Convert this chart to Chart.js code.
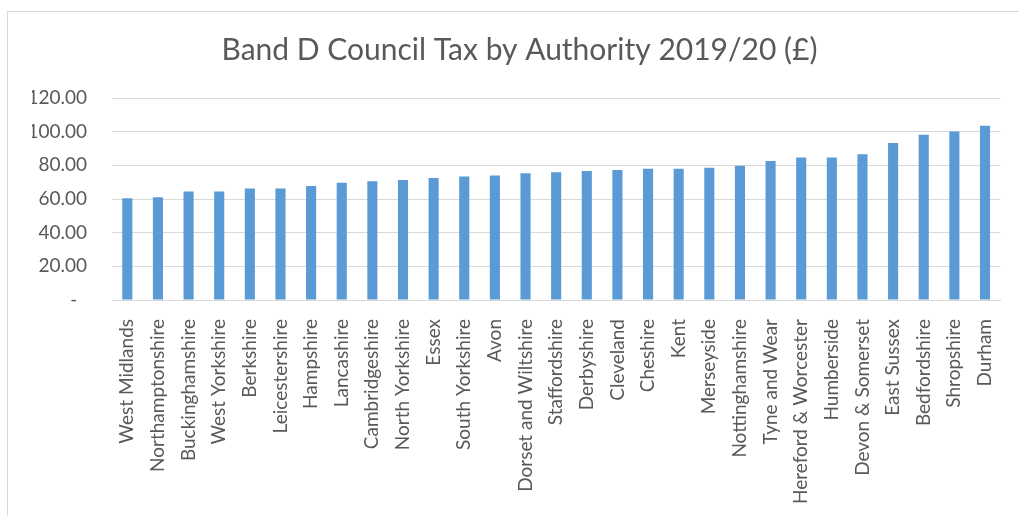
<!DOCTYPE html>
<html>
<head>
<meta charset="utf-8">
<script src="https://cdn.jsdelivr.net/npm/chart.js@4/dist/chart.umd.min.js"></script>
<style>
  html, body { margin: 0; padding: 0; background: #fff; overflow: hidden; }
  #frame { position: absolute; left: 7px; top: 11px; width: 1040px; height: 600px; border: 1px solid #d9d9d9; }
  #wrap { position: absolute; left: 0; top: 0; width: 1019px; height: 516px; }
</style>
</head>
<body>
<div id="frame"></div>
<div id="wrap"><canvas id="barChart"></canvas></div>
<script>
const authorities = [
    "West Midlands", "Northamptonshire", "Buckinghamshire", "West Yorkshire", "Berkshire",
    "Leicestershire", "Hampshire", "Lancashire", "Cambridgeshire", "North Yorkshire",
    "Essex", "South Yorkshire", "Avon", "Dorset and Wiltshire", "Staffordshire",
    "Derbyshire", "Cleveland", "Cheshire", "Kent", "Merseyside",
    "Nottinghamshire", "Tyne and Wear", "Hereford & Worcester", "Humberside", "Devon & Somerset",
    "East Sussex", "Bedfordshire", "Shropshire", "Durham"
];
const bandD = [
    60.4, 61.0, 64.4, 64.4, 66.3,
    66.3, 67.7, 69.7, 70.5, 71.3,
    72.5, 73.3, 73.9, 75.3, 75.9,
    76.7, 77.3, 77.9, 77.9, 78.5,
    79.8, 82.6, 84.6, 84.6, 86.6,
    93.3, 98.1, 100.1, 103.5
];
const yTicks = [0, 20, 40, 60, 80, 100, 120];

const textColor = '#595959';
const gridColor = '#d9d9d9';

const ctx = document.getElementById("barChart").getContext("2d");

const chart = new Chart(ctx, {
    type: 'bar',
    data: {
        labels: authorities,
        datasets: [{
            label: 'Band D',
            data: bandD,
            backgroundColor: '#5b9bd5',
            borderWidth: 0,
            barPercentage: 0.33,
            categoryPercentage: 1
        }]
    },
    options: {
        responsive: true,
        maintainAspectRatio: false,
        animation: false,
        layout: { padding: { left: 32, right: 12, top: 0, bottom: 0 } },
        plugins: {
            legend: { display: false },
            tooltip: { enabled: false },
            title: {
                display: true,
                text: 'Band D Council Tax by Authority 2019/20 (£)',
                color: textColor,
                font: { family: 'Lato', size: 30, weight: 'normal' },
                padding: { top: 32, bottom: 30 }
            }
        },
        scales: {
            x: {
                grid: { display: false },
                border: { display: true, color: gridColor, width: 1 },
                ticks: {
                    color: textColor,
                    font: { family: 'Lato', size: 19 },
                    minRotation: 90,
                    maxRotation: 90,
                    autoSkip: false,
                    padding: 11
                },
                afterFit: (scale) => { scale.height = 216; }
            },
            y: {
                min: 0,
                max: 120,
                afterBuildTicks: (scale) => { scale.ticks = yTicks.map(v => ({ value: v })); },
                grid: { color: gridColor, lineWidth: 1, drawTicks: false },
                border: { display: false },
                ticks: {
                    color: textColor,
                    font: { family: 'Lato', size: 19 },
                    padding: 25,
                    callback: (v) => v === 0 ? '-  ' : Number(v).toFixed(2)
                },
                afterFit: (scale) => { scale.width = 80; }
            }
        }
    }
});
</script>
</body>
</html>
